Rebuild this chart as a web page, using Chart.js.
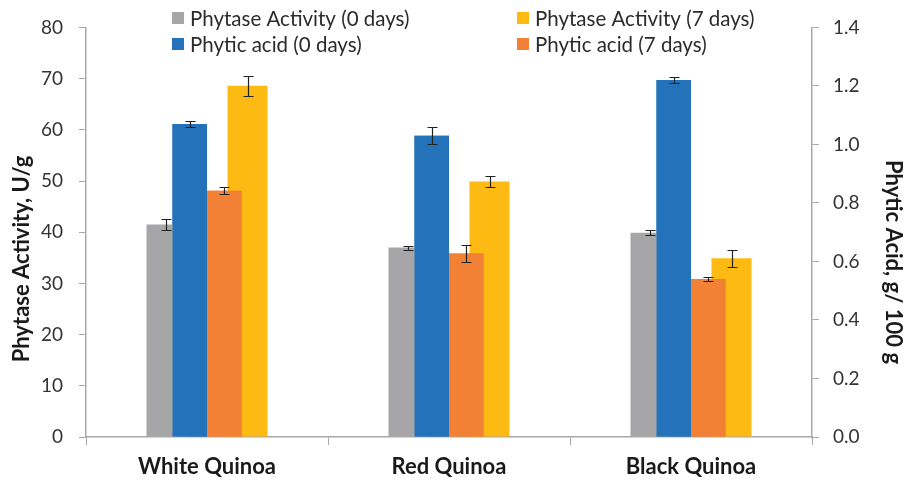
<!DOCTYPE html>
<html>
<head>
<meta charset="utf-8">
<script src="https://cdn.jsdelivr.net/npm/chart.js@4/dist/chart.umd.min.js"></script>
<style>
  html, body { margin: 0; padding: 0; background: #ffffff; }
  #wrap { width: 905px; height: 481px; position: relative; }
</style>
</head>
<body>
<div id="wrap"><canvas id="chart"></canvas></div>
<script>
// Quinoa varieties
const categories = ['White Quinoa', 'Red Quinoa', 'Black Quinoa'];

// Phytase activity, U/g (left axis)
const phytase0 = [41.5, 37.0, 39.9];
const phytase0Err = [1.0, 0.4, 0.45];
const phytase7 = [68.6, 49.9, 34.9];
const phytase7Err = [2.0, 1.1, 1.7];

// Phytic acid, g/100 g (right axis)
const phytic0 = [1.07, 1.03, 1.22];
const phytic0Err = [0.011, 0.03, 0.01];
const phytic7 = [0.842, 0.627, 0.54];
const phytic7Err = [0.011, 0.028, 0.008];

// Axis ranges
const leftMax = 80, leftStep = 10;
const rightMax = 1.4, rightStep = 0.2;

const leftTitle = 'Phytase Activity, U/g';
const rightTitle = 'Phytic Acid, g/ 100 g';

const FONT = 'Lato, "Open Sans", sans-serif';
Chart.defaults.font.family = FONT;

// Phytic acid bars sit in front of the phytase bars: draw them once more on top
const frontBars = {
  id: 'frontBars',
  afterDatasetsDraw(chart) {
    chart.data.datasets.forEach((ds, di) => {
      if (ds.yAxisID === 'y2') chart.getDatasetMeta(di).controller.draw();
    });
  }
};

// Error bars drawn from each dataset's errors array on its own y scale
const errorBars = {
  id: 'errorBars',
  afterDatasetsDraw(chart) {
    const ctx = chart.ctx;
    ctx.save();
    ctx.strokeStyle = '#222222';
    ctx.lineWidth = 1.2;
    chart.data.datasets.forEach((ds, di) => {
      const meta = chart.getDatasetMeta(di);
      const ys = chart.scales[ds.yAxisID];
      meta.data.forEach((bar, i) => {
        const v = ds.data[i], e = ds.errors[i];
        const yTop = Math.round(ys.getPixelForValue(v + e)) + 0.5;
        const yBot = Math.round(ys.getPixelForValue(v - e)) + 0.5;
        const x = Math.round(bar.x) + 0.5;
        ctx.beginPath();
        ctx.moveTo(x, yTop); ctx.lineTo(x, yBot);
        ctx.moveTo(x - 5, yTop); ctx.lineTo(x + 5, yTop);
        ctx.moveTo(x - 5, yBot); ctx.lineTo(x + 5, yBot);
        ctx.stroke();
      });
    });
    ctx.restore();
  }
};

// Two-column legend at the top of the chart
const topLegend = {
  id: 'topLegend',
  afterDraw(chart) {
    const ctx = chart.ctx;
    const slots = [
      { ds: 0, x: 172, y: 18 },
      { ds: 3, x: 517, y: 18 },
      { ds: 1, x: 172, y: 44 },
      { ds: 2, x: 517, y: 44 }
    ];
    ctx.save();
    ctx.font = '20.5px ' + FONT;
    ctx.textBaseline = 'middle';
    ctx.textAlign = 'left';
    slots.forEach(s => {
      const ds = chart.data.datasets[s.ds];
      ctx.fillStyle = ds.backgroundColor;
      ctx.fillRect(s.x, s.y - 6, 12, 12);
      ctx.fillStyle = '#2b2b2b';
      ctx.fillText(ds.label, s.x + 18, s.y + 1);
    });
    ctx.restore();
  }
};

// Axis titles
const axisTitles = {
  id: 'axisTitles',
  afterDraw(chart) {
    const ctx = chart.ctx;
    const put = (text, x, y, angle) => {
      ctx.save();
      ctx.font = 'bold 22px ' + FONT;
      ctx.fillStyle = '#1a1a1a';
      ctx.textAlign = 'center';
      ctx.textBaseline = 'middle';
      ctx.translate(x, y);
      ctx.rotate(angle);
      ctx.fillText(text, 0, 0);
      ctx.restore();
    };
    put(leftTitle, 22, 259, -Math.PI / 2);
    put(rightTitle, 893, 262, Math.PI / 2);
  }
};

// Grouped bar geometry: outer phytase bars, inner phytic acid bars
const phytaseBar = { yAxisID: 'y', categoryPercentage: 0.4463, barPercentage: 1.481 };
const phyticBar = { yAxisID: 'y2', categoryPercentage: 0.5702, barPercentage: 1.0 };

new Chart(document.getElementById('chart'), {
  type: 'bar',
  data: {
    labels: categories,
    datasets: [
      Object.assign({ label: 'Phytase Activity (0 days)', data: phytase0, errors: phytase0Err, backgroundColor: '#a6a6a8' }, phytaseBar),
      Object.assign({ label: 'Phytic acid (0 days)', data: phytic0, errors: phytic0Err, backgroundColor: '#2372ba' }, phyticBar),
      Object.assign({ label: 'Phytic acid (7 days)', data: phytic7, errors: phytic7Err, backgroundColor: '#f28035' }, phyticBar),
      Object.assign({ label: 'Phytase Activity (7 days)', data: phytase7, errors: phytase7Err, backgroundColor: '#fcba13' }, phytaseBar)
    ]
  },
  options: {
    responsive: true,
    maintainAspectRatio: false,
    animation: false,
    layout: { padding: { top: 24, right: 0, bottom: 0, left: 0 } },
    plugins: {
      legend: { display: false },
      tooltip: { enabled: false }
    },
    scales: {
      x: {
        type: 'category',
        offset: true,
        grid: { offset: true, drawOnChartArea: false, drawTicks: true, tickLength: 8, color: '#a8a8a8' },
        border: { color: '#a8a8a8', width: 1.5 },
        ticks: { color: '#1a1a1a', font: { size: 22, weight: 'bold' }, padding: 9, maxRotation: 0 },
        afterFit(scale) { scale.height = 44; }
      },
      y: {
        position: 'left',
        min: 0,
        max: leftMax,
        grid: { drawOnChartArea: false, drawTicks: true, tickLength: 7, color: '#a8a8a8' },
        border: { color: '#a8a8a8', width: 1.5 },
        ticks: { stepSize: leftStep, color: '#333333', font: { size: 19 }, padding: 16 },
        afterFit(scale) { scale.width = 86; }
      },
      y2: {
        position: 'right',
        min: 0,
        max: rightMax,
        grid: { drawOnChartArea: false, drawTicks: true, tickLength: 7, color: '#a8a8a8' },
        border: { color: '#a8a8a8', width: 1.5 },
        ticks: { stepSize: rightStep, color: '#333333', font: { size: 19 }, padding: 14,
                 callback: v => Number(v).toFixed(1) },
        afterFit(scale) { scale.width = 93; }
      }
    }
  },
  plugins: [frontBars, errorBars, topLegend, axisTitles]
});
</script>
</body>
</html>
